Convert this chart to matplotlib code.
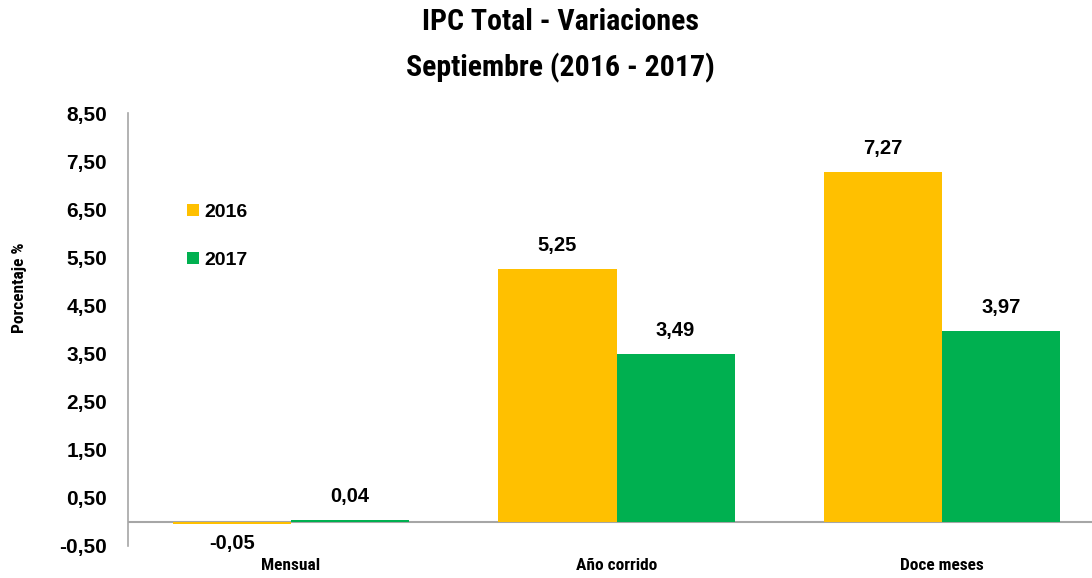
import matplotlib
matplotlib.use("Agg")
import matplotlib.pyplot as plt
from matplotlib import font_manager
import numpy as np

# data
categories = ["Mensual", "Año corrido", "Doce meses"]
series_names = ["2016", "2017"]
values_2016 = [-0.05, 5.25, 7.27]
values_2017 = [0.04, 3.49, 3.97]
labels_2016 = ["-0,05", "5,25", "7,27"]
labels_2017 = ["0,04", "3,49", "3,97"]
yticks = [-0.5, 0.5, 1.5, 2.5, 3.5, 4.5, 5.5, 6.5, 7.5, 8.5]
ytick_labels = ["-0,50", "0,50", "1,50", "2,50", "3,50", "4,50", "5,50", "6,50", "7,50", "8,50"]

# condensed font if there is one, otherwise an Arial-like one
installed = {f.name for f in font_manager.fontManager.ttflist}
narrow_font = "Liberation Sans"
for name in ("Liberation Sans Narrow", "Arial Narrow", "Roboto Condensed"):
    if name in installed:
        narrow_font = name
        break
narrow = [narrow_font, "DejaVu Sans"]
plain = ["Liberation Sans", "DejaVu Sans"]

fig = plt.figure(figsize=(10.92, 5.78), dpi=100)
ax = fig.add_axes([128 / 1092, 1 - 546 / 578, 977 / 1092, (546 - 113) / 578])

x = np.arange(len(categories))
w = 0.3625
b1 = ax.bar(x - w / 2, values_2016, w, color="#FFC000", label=series_names[0])
b2 = ax.bar(x + w / 2, values_2017, w, color="#00B050", label=series_names[1])

# data labels
for bars, labs in ((b1, labels_2016), (b2, labels_2017)):
    for bar, lab in zip(bars, labs):
        h = bar.get_height()
        xc = bar.get_x() + bar.get_width() / 2
        if h >= 0:
            ax.annotate(lab, (xc, h), xytext=(0, 10), textcoords="offset points",
                        ha="center", va="bottom", fontsize=14.5, fontweight="bold", family=plain)
        else:
            ax.annotate(lab, (xc, h), xytext=(0, -7), textcoords="offset points",
                        ha="center", va="top", fontsize=14.5, fontweight="bold", family=plain)

ax.axhline(0, color="#A6A6A6", lw=1.5, zorder=0)
ax.set_xlim(-0.5, 2.5)
ax.set_ylim(-0.5, 8.5)
ax.set_yticks(yticks)
ax.set_yticklabels(ytick_labels, fontsize=15, fontweight="bold", family=plain)
ax.set_xticks(x)
ax.set_xticklabels(categories, fontsize=12.5, fontweight="bold", family=narrow)
ax.tick_params(axis="both", length=0)
ax.tick_params(axis="y", pad=15)
ax.tick_params(axis="x", pad=9)
for s in ("top", "right", "bottom"):
    ax.spines[s].set_visible(False)
ax.spines["left"].set_color("#A6A6A6")
ax.spines["left"].set_linewidth(1.2)

ax.set_ylabel("Porcentaje %", fontsize=12.5, fontweight="bold", family=narrow)
ax.yaxis.set_label_coords(-101 / 977, 1 - (288 - 113) / 433)

fig.text(0.513, 1 - 22 / 578, "IPC Total - Variaciones", ha="center", va="center",
         fontsize=21.5, fontweight="bold", family=narrow)
fig.text(0.513, 1 - 68 / 578, "Septiembre (2016 - 2017)", ha="center", va="center",
         fontsize=21.5, fontweight="bold", family=narrow)

ax.legend(loc="upper left", bbox_to_anchor=(187 / 1092, 1 - 204 / 578),
          bbox_transform=fig.transFigure, frameon=False,
          prop={"family": plain, "weight": "bold", "size": 14},
          handlelength=0.6, handleheight=0.6, handletextpad=0.3,
          labelspacing=1.6, borderaxespad=0, borderpad=0)

fig.savefig("out.png", dpi=100)
